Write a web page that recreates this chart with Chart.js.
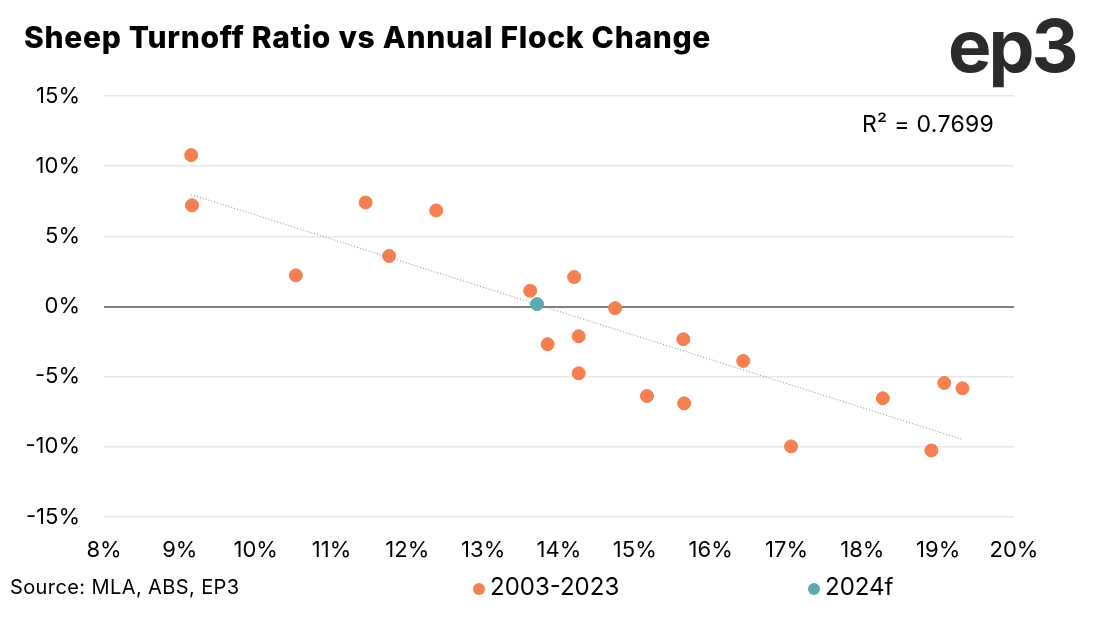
<!DOCTYPE html>
<html>
<head>
<meta charset="utf-8">
<script src="https://cdn.jsdelivr.net/npm/chart.js@4.4.1/dist/chart.umd.min.js"></script>
<style>
  html, body { margin: 0; padding: 0; background: #fff; }
  #wrap { position: relative; width: 1097px; height: 619px; overflow: hidden; font-family: "Inter", "Lato", sans-serif; }
  #c { position: absolute; left: 0; top: 0; }
  .abs { position: absolute; white-space: nowrap; color: #000; }
  #title { left: 24px; top: 19px; font-size: 30px; font-weight: 800; letter-spacing: 0.7px; }
  #logo { left: 948px; top: 1px; font-size: 73px; font-weight: 700; color: #2b2b2b; letter-spacing: -3px; }
  #r2 { left: 862px; top: 110px; font-size: 23px; letter-spacing: 0.3px; }
  #source { left: 10px; top: 575px; font-size: 20px; letter-spacing: 0.4px; }
  .leg { top: 572px; font-size: 24px; display: flex; align-items: center; }
  .dot { display: inline-block; width: 12px; height: 12px; border-radius: 50%; margin-right: 5px; margin-top: 4px; }
</style>
</head>
<body>
<div id="wrap">
  <canvas id="c" width="1097" height="619"></canvas>
  <div class="abs" id="title">Sheep Turnoff Ratio vs Annual Flock Change</div>
  <div class="abs" id="logo">ep3</div>
  <div class="abs" id="r2">R² = 0.7699</div>
  <div class="abs" id="source">Source: MLA, ABS, EP3</div>
  <div class="abs leg" id="leg1" style="left:473px"><span class="dot" style="background:#F47F50"></span>2003-2023</div>
  <div class="abs leg" id="leg2" style="left:808px"><span class="dot" style="background:#5FA8B0"></span>2024f</div>
</div>
<script>
// Turnoff ratio (%) and annual flock change (%), 2003-2023
const turnoff2003_2023 = [9.15, 9.16, 10.53, 11.45, 12.38, 11.76, 13.62, 14.20, 14.74, 13.85, 14.26, 14.26, 15.64, 16.43, 15.16, 15.65, 17.06, 18.27, 19.08, 19.32, 18.91];
const flock2003_2023   = [10.79, 7.21, 2.22, 7.41, 6.84, 3.60, 1.12, 2.10, -0.12, -2.69, -2.12, -4.76, -2.33, -3.88, -6.38, -6.90, -9.97, -6.54, -5.45, -5.83, -10.26];
// 2024 forecast
const turnoff2024f = [13.71];
const flock2024f   = [0.17];
// Axis ticks
const xTicks = [8, 9, 10, 11, 12, 13, 14, 15, 16, 17, 18, 19, 20];
const yTicks = [-15, -10, -5, 0, 5, 10, 15];
const seriesLabels = ['2003-2023', '2024f'];

const pts = turnoff2003_2023.map((x, i) => ({ x: x, y: flock2003_2023[i] }));
const fpts = turnoff2024f.map((x, i) => ({ x: x, y: flock2024f[i] }));

// Linear least-squares trendline over 2003-2023
const n = pts.length;
const mx = pts.reduce((s, p) => s + p.x, 0) / n;
const my = pts.reduce((s, p) => s + p.y, 0) / n;
let sxy = 0, sxx = 0;
pts.forEach(p => { sxy += (p.x - mx) * (p.y - my); sxx += (p.x - mx) * (p.x - mx); });
const slope = sxy / sxx, icpt = my - slope * mx;
const xmin = Math.min(...turnoff2003_2023), xmax = Math.max(...turnoff2003_2023);
const trend = [{ x: xmin, y: icpt + slope * xmin }, { x: xmax, y: icpt + slope * xmax }];

const tickFont = { family: "Inter, Lato, sans-serif", size: 22 };

new Chart(document.getElementById('c'), {
  type: 'scatter',
  data: {
    datasets: [
      { type: 'line', label: 'trend', data: trend, borderColor: '#8a8a8a', borderWidth: 1, borderDash: [1, 2], pointRadius: 0, fill: false, order: 0 },
      { label: seriesLabels[0], data: pts, backgroundColor: '#F47F50', borderColor: '#F47F50', pointRadius: 6.5, pointHoverRadius: 6.5, order: 2 },
      { label: seriesLabels[1], data: fpts, backgroundColor: '#5FA8B0', borderColor: '#5FA8B0', pointRadius: 6.5, pointHoverRadius: 6.5, order: 1 }
    ]
  },
  options: {
    responsive: false,
    animation: false,
    layout: { padding: { top: 96, right: 83, left: 0, bottom: 0 } },
    plugins: { legend: { display: false }, tooltip: { enabled: false } },
    scales: {
      x: {
        type: 'linear', min: 8, max: 20,
        afterBuildTicks: s => { s.ticks = xTicks.map(v => ({ value: v })); },
        afterFit: s => { s.height = 102; },
        grid: { display: false, drawTicks: false },
        border: { display: false },
        ticks: { color: '#000', font: tickFont, padding: 20, maxRotation: 0, autoSkip: false, callback: v => v + '%' }
      },
      y: {
        type: 'linear', min: -15, max: 15,
        afterBuildTicks: s => { s.ticks = yTicks.map(v => ({ value: v })); },
        afterFit: s => { s.width = 104; },
        grid: {
          drawTicks: false,
          color: c => (c.tick && c.tick.value === 0) ? '#808080' : '#e8e8e8',
          lineWidth: c => (c.tick && c.tick.value === 0) ? 2 : 1.5
        },
        border: { display: false },
        ticks: { color: '#000', font: tickFont, padding: 24, autoSkip: false, callback: v => v + '%' }
      }
    }
  }
});
</script>
</body>
</html>
